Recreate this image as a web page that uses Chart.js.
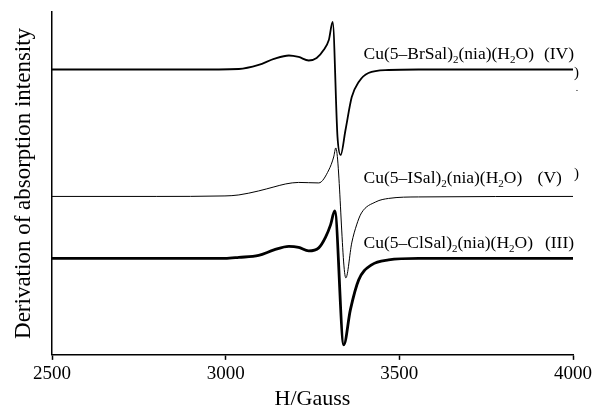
<!DOCTYPE html>
<html>
<head>
<meta charset="utf-8">
<script src="https://cdn.jsdelivr.net/npm/chart.js@4/dist/chart.umd.min.js"></script>
<style>
  html, body { margin: 0; padding: 0; background: #fff; }
  #wrap { width: 592px; height: 407px; }
</style>
</head>
<body>
<div id="wrap"><canvas id="chart" width="592" height="407"></canvas></div>
<script>
// EPR spectra, field in Gauss, intensity in arbitrary units (curves offset)
const fieldIV = [2500, 2700, 2900, 3038, 3095, 3139, 3182, 3210, 3239, 3262, 3282, 3297, 3308, 3322, 3331, 3345, 3363, 3383, 3411, 3469, 3555, 3700, 4000];
const intensityIV = [285.5, 285.5, 285.5, 286, 290, 296, 299.5, 298, 294.5, 297, 305, 315, 333, 218, 200, 225, 258, 273, 282, 285, 285.5, 285.5, 285.5];

const fieldV = [2500, 2800, 2998, 3038, 3095, 3139, 3173, 3210, 3268, 3297, 3311, 3317, 3346, 3363, 3377, 3391, 3432, 3469, 3555, 4000];
const intensityV = [158.5, 158.5, 159, 160, 164, 168, 171, 172.5, 172, 185, 198, 207, 77, 112, 130, 142, 153, 156.5, 158, 158.5];

const fieldIII = [2500, 2800, 2998, 3038, 3095, 3139, 3182, 3210, 3239, 3268, 3288, 3302, 3314, 3340, 3359, 3383, 3420, 3469, 3555, 4000];
const intensityIII = [96.5, 96.5, 96.5, 97.5, 99.5, 105, 108.5, 107.5, 104, 107, 118, 130, 144, 10, 45, 75, 90, 95, 96.5, 96.5];

const xTicks = [2500, 3000, 3500, 4000];

// curve labels: name parts (text, is subscript), suffix, suffix end (Gauss), baseline intensity
const labelNames = [
  [['Cu(5\u2013BrSal)', 0], ['2', 1], ['(nia)(H', 0], ['2', 1], ['O)', 0]],
  [['Cu(5\u2013ISal)', 0], ['2', 1], ['(nia)(H', 0], ['2', 1], ['O)', 0]],
  [['Cu(5\u2013ClSal)', 0], ['2', 1], ['(nia)(H', 0], ['2', 1], ['O)', 0]]
];
const labelSuffix = ['(IV)', '(V)', '(III)'];
const suffixEnd = [4003, 3968, 4003];
const labelLevel = [296, 172, 107];

const toPoints = (xs, ys) => xs.map((x, i) => ({x: x, y: ys[i]}));

const serif = '"Liberation Serif", "Times New Roman", serif';

const curveLabels = {
  id: 'curveLabels',
  afterDatasetsDraw(chart) {
    const ctx = chart.ctx;
    const xs = chart.scales.x, ys = chart.scales.y;
    ctx.save();
    ctx.fillStyle = '#000';
    ctx.textBaseline = 'alphabetic';
    labelNames.forEach((parts, i) => {
      let x = xs.getPixelForValue(3397);
      const y = ys.getPixelForValue(labelLevel[i]);
      ctx.textAlign = 'left';
      parts.forEach(([txt, sub]) => {
        ctx.font = sub ? '11px ' + serif : '17.5px ' + serif;
        ctx.fillText(txt, x, sub ? y + 4 : y);
        x += ctx.measureText(txt).width;
      });
      ctx.font = '17.5px ' + serif;
      ctx.textAlign = 'right';
      ctx.fillText(labelSuffix[i], xs.getPixelForValue(suffixEnd[i]), y);
    });
    // stray marks at the right edge of the original figure
    ctx.font = '15px ' + serif;
    ctx.textAlign = 'center';
    ctx.fillText(')', xs.getPixelForValue(4010), ys.getPixelForValue(278));
    ctx.fillText(')', xs.getPixelForValue(4010), ys.getPixelForValue(177));
    ctx.fillRect(xs.getPixelForValue(4010), ys.getPixelForValue(265), 1, 1);
    ctx.restore();
  }
};

const ds = (label, pts, width) => ({
  label: label,
  data: pts,
  borderColor: '#000',
  borderWidth: width,
  pointRadius: 0,
  fill: false,
  cubicInterpolationMode: 'monotone'
});

new Chart(document.getElementById('chart'), {
  type: 'line',
  data: {
    datasets: [
      ds('IV', toPoints(fieldIV, intensityIV), 1.8),
      ds('V', toPoints(fieldV, intensityV), 1),
      ds('III', toPoints(fieldIII, intensityIII), 2.8)
    ]
  },
  options: {
    responsive: false,
    animation: false,
    layout: {padding: {left: 10, top: 12, right: 18, bottom: 0}},
    plugins: {legend: {display: false}, tooltip: {enabled: false}},
    scales: {
      x: {
        type: 'linear',
        min: 2500,
        max: 4000,
        afterBuildTicks: (axis) => { axis.ticks = xTicks.map(v => ({value: v})); },
        ticks: {
          color: '#000',
          padding: 0,
          maxRotation: 0,
          callback: (v) => String(v),
          font: {family: serif, size: 19, lineHeight: 1.53}
        },
        grid: {display: true, drawOnChartArea: false, drawTicks: true, tickLength: 5, color: '#000', tickWidth: 1.5},
        border: {display: true, color: '#000', width: 1.5},
        title: {display: true, text: 'H/Gauss', color: '#000', padding: {top: 2, bottom: 0}, font: {family: serif, size: 22, lineHeight: 0.73}}
      },
      y: {
        min: 0,
        max: 343,
        ticks: {display: false},
        grid: {display: false, drawTicks: false},
        border: {display: true, color: '#000', width: 1.5},
        title: {display: true, text: 'Derivation of absorption intensity', color: '#000', padding: {top: 0, bottom: 14.4}, font: {family: serif, size: 23, lineHeight: 1.2}}
      }
    }
  },
  plugins: [curveLabels]
});
</script>
</body>
</html>
